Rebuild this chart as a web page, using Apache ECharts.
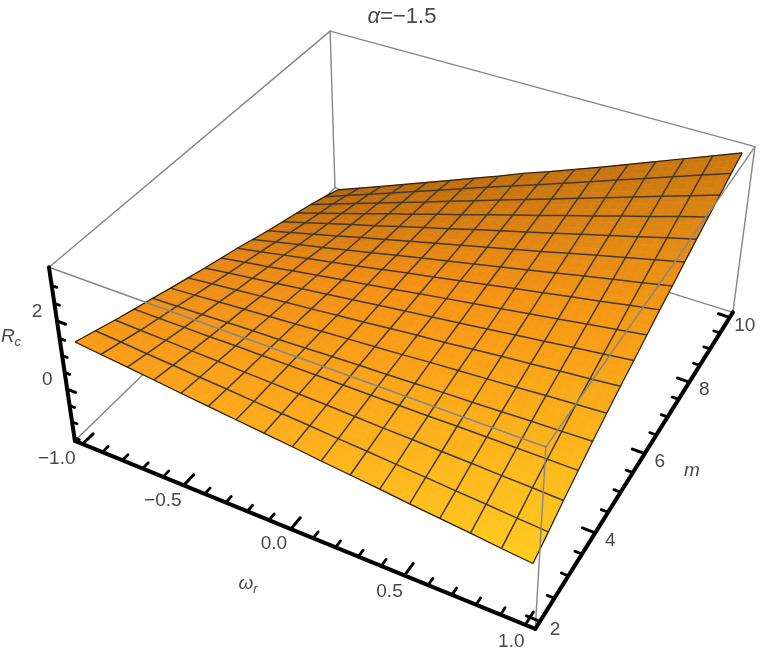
<!DOCTYPE html>
<html><head><meta charset="utf-8">
<style>html,body{margin:0;padding:0;background:#fff}#c{width:763px;height:654px}</style>
<script src="https://cdn.jsdelivr.net/npm/echarts@6/dist/echarts.min.js"></script>
</head><body><div id="c"></div>
<script>
// ---- data ----
const wValues = [-1,-0.875,-0.75,-0.625,-0.5,-0.375,-0.25,-0.125,0,0.125,0.25,0.375,0.5,0.625,0.75,0.875,1];
const mValues = [2,2.5,3,3.5,4,4.5,5,5.5,6,6.5,7,7.5,8,8.5,9,9.5,10];
// Rc: one row per m value, one column per omega_r value
const rcRows = [
[1.32,1.24,1.16,1.08,0.99,0.91,0.83,0.75,0.67,0.58,0.50,0.42,0.33,0.25,0.17,0.08,0.00],
[1.13,1.08,1.02,0.97,0.91,0.86,0.80,0.75,0.70,0.64,0.59,0.53,0.48,0.42,0.37,0.31,0.26],
[0.94,0.91,0.89,0.86,0.84,0.81,0.79,0.76,0.74,0.71,0.68,0.66,0.63,0.61,0.58,0.56,0.53],
[0.76,0.76,0.76,0.76,0.77,0.77,0.77,0.77,0.77,0.77,0.77,0.77,0.78,0.78,0.78,0.78,0.78],
[0.59,0.62,0.64,0.67,0.70,0.72,0.75,0.78,0.81,0.83,0.86,0.89,0.91,0.94,0.97,0.99,1.02],
[0.41,0.46,0.52,0.57,0.62,0.67,0.73,0.78,0.83,0.88,0.94,0.99,1.04,1.09,1.15,1.20,1.25],
[0.24,0.32,0.39,0.47,0.55,0.62,0.70,0.77,0.85,0.93,1.00,1.08,1.16,1.23,1.31,1.38,1.46],
[0.07,0.17,0.27,0.37,0.47,0.57,0.67,0.77,0.87,0.96,1.06,1.16,1.26,1.36,1.46,1.56,1.66],
[-0.09,0.03,0.15,0.28,0.40,0.52,0.64,0.76,0.89,1.01,1.13,1.25,1.37,1.49,1.62,1.74,1.86],
[-0.25,-0.11,0.04,0.19,0.33,0.47,0.62,0.77,0.91,1.06,1.20,1.35,1.49,1.64,1.78,1.93,2.07],
[-0.43,-0.26,-0.09,0.07,0.24,0.41,0.58,0.75,0.92,1.08,1.25,1.42,1.59,1.76,1.93,2.09,2.26],
[-0.60,-0.41,-0.22,-0.03,0.17,0.36,0.55,0.74,0.93,1.12,1.31,1.50,1.70,1.89,2.08,2.27,2.46],
[-0.76,-0.55,-0.33,-0.12,0.09,0.31,0.52,0.73,0.95,1.16,1.37,1.58,1.80,2.01,2.22,2.44,2.65],
[-0.92,-0.69,-0.45,-0.22,0.02,0.25,0.49,0.72,0.96,1.19,1.42,1.66,1.89,2.13,2.36,2.60,2.83],
[-1.08,-0.82,-0.57,-0.31,-0.06,0.20,0.46,0.71,0.97,1.23,1.48,1.74,1.99,2.25,2.51,2.76,3.02],
[-1.26,-0.98,-0.70,-0.42,-0.14,0.14,0.42,0.70,0.98,1.25,1.53,1.81,2.09,2.37,2.65,2.93,3.21],
[-1.46,-1.16,-0.87,-0.57,-0.27,0.03,0.33,0.63,0.95,1.23,1.53,1.83,2.14,2.45,2.76,3.07,3.38]
];
const wTicksMajor = [-1,-0.5,0,0.5,1];
const mTicksMajor = [2,4,6,8,10];
const zTicksMajor = [0,2];
const wTickLabels = ['\u22121.0','\u22120.5','0.0','0.5','1.0'];
const mTickLabels = ['2','4','6','8','10'];
const zTickLabels = ['0','2'];
const wMinor = [-0.9,-0.8,-0.7,-0.6,-0.4,-0.3,-0.2,-0.1,0.1,0.2,0.3,0.4,0.6,0.7,0.8,0.9];
const mMinor = [2.5,3,3.5,4.5,5,5.5,6.5,7,7.5,8.5,9,9.5];
const zMinor = [-1.5,-1,-0.5,0.5,1,1.5,2.5,3];

// ---- view: the plot box and the screen place of its corners ----
const W0=-1.04,W1=1.04,M0=1.84,M1=10.16,Z0=-1.6,Z1=3.5;
const anchors = [
 [W0,M0,Z0,75,441],[W1,M0,Z0,535,629],[W1,M1,Z0,733,312],[W0,M1,Z0,335,188],
 [W0,M0,Z1,49,267],[W1,M0,Z1,546,447],[W1,M1,Z1,755,147],[W0,M1,Z1,330,31]];
function solveCamera(){
  const A=[],b=[];
  anchors.forEach(([x,y,z,u,v])=>{
    A.push([x,y,z,1,0,0,0,0,-u*x,-u*y,-u*z]);b.push(u);
    A.push([0,0,0,0,x,y,z,1,-v*x,-v*y,-v*z]);b.push(v);
  });
  const n=11,N=[],r=[];
  for(let i=0;i<n;i++){N.push(new Array(n).fill(0));r.push(0);
    for(let k=0;k<A.length;k++){r[i]+=A[k][i]*b[k];for(let j=0;j<n;j++)N[i][j]+=A[k][i]*A[k][j];}}
  for(let i=0;i<n;i++){let p=i;for(let k=i+1;k<n;k++)if(Math.abs(N[k][i])>Math.abs(N[p][i]))p=k;
    [N[i],N[p]]=[N[p],N[i]];[r[i],r[p]]=[r[p],r[i]];
    for(let k=i+1;k<n;k++){const f=N[k][i]/N[i][i];for(let j=i;j<n;j++)N[k][j]-=f*N[i][j];r[k]-=f*r[i];}}
  const s=new Array(n).fill(0);
  for(let i=n-1;i>=0;i--){let t=r[i];for(let j=i+1;j<n;j++)t-=N[i][j]*s[j];s[i]=t/N[i][i];}
  return s;
}
const P=solveCamera();
function project(x,y,z){const d=P[8]*x+P[9]*y+P[10]*z+1;
  return [(P[0]*x+P[1]*y+P[2]*z+P[3])/d,(P[4]*x+P[5]*y+P[6]*z+P[7])/d];}

// ---- shading over the surface ----
const shade=[
 [[0xF9,0x9A,0x18],[0xFF,0xB0,0x1C],[0xFF,0xCC,0x20]],
 [[0xE6,0x86,0x14],[0xF8,0x92,0x14],[0xF8,0x9C,0x14]],
 [[0xB5,0x65,0x0A],[0xC0,0x70,0x0E],[0xCC,0x78,0x10]]];
function colorAt(u,v){
  const i=Math.min(1,Math.floor(v*2)),j=Math.min(1,Math.floor(u*2)),a=v*2-i,b=u*2-j,c=[0,0,0];
  for(let k=0;k<3;k++)c[k]=Math.round((1-a)*((1-b)*shade[i][j][k]+b*shade[i][j+1][k])+a*((1-b)*shade[i+1][j][k]+b*shade[i+1][j+1][k]));
  return 'rgb('+c.join(',')+')';
}
const GRAY='#868686',TXT='#484848',FONT='"Liberation Sans",Arial,sans-serif';
const xy=(api,x,y,z)=>api.coord(project(x,y,z));
function edge(a,b,api,w,col){const p=xy(api,...a),q=xy(api,...b);return {type:'line',shape:{x1:p[0],y1:p[1],x2:q[0],y2:q[1]},style:{stroke:col,lineWidth:w,lineCap:'round'},silent:true};}

const backEdges=[[[W0,M0,Z0],[W0,M1,Z0]],[[W0,M1,Z0],[W1,M1,Z0]],[[W0,M1,Z0],[W0,M1,Z1]],[[W0,M0,Z1],[W0,M1,Z1]],[[W0,M1,Z1],[W1,M1,Z1]],[[W1,M1,Z0],[W1,M1,Z1]]];
const frontEdges=[[[W0,M0,Z1],[W1,M0,Z1]],[[W1,M0,Z1],[W1,M1,Z1]],[[W1,M0,Z0],[W1,M0,Z1]]];

const cells=[];
for(let i=0;i<mValues.length-1;i++)for(let j=0;j<wValues.length-1;j++)cells.push([j,i]);
const SUB=3;
function renderCell(params,api){
  const j=api.value(0),i=api.value(1),kids=[];
  const w0=wValues[j],w1=wValues[j+1],m0=mValues[i],m1=mValues[i+1];
  const a=rcRows[i][j],b=rcRows[i][j+1],c=rcRows[i+1][j],d=rcRows[i+1][j+1];
  const pt=(s,t)=>xy(api,w0+(w1-w0)*s,m0+(m1-m0)*t,(1-s)*(1-t)*a+s*(1-t)*b+(1-s)*t*c+s*t*d);
  for(let p=0;p<SUB;p++)for(let q=0;q<SUB;q++){
    const s0=q/SUB,s1=(q+1)/SUB,t0=p/SUB,t1=(p+1)/SUB;
    const col=colorAt((j+(s0+s1)/2)/16,(i+(t0+t1)/2)/16);
    kids.push({type:'polygon',shape:{points:[pt(s0,t0),pt(s1,t0),pt(s1,t1),pt(s0,t1)]},style:{fill:col,stroke:col,lineWidth:0.6},silent:true});
  }
  return {type:'group',children:kids};
}
function renderMesh(params,api){
  const kids=[],mk=(pts,last)=>({type:'polyline',shape:{points:pts},style:{fill:null,stroke:last?'#2a1c08':'#423a2e',lineWidth:last?1.2:1.5,lineJoin:'round'},silent:true});
  for(let i=0;i<mValues.length;i++){const pts=wValues.map((w,j)=>xy(api,w,mValues[i],rcRows[i][j]));kids.push(mk(pts,i===0||i===16));}
  for(let j=0;j<wValues.length;j++){const pts=mValues.map((m,i)=>xy(api,wValues[j],m,rcRows[i][j]));kids.push(mk(pts,j===0||j===16));}
  return {type:'group',children:kids};
}
function renderEdges(list){return (params,api)=>({type:'group',children:list.map(e=>edge(e[0],e[1],api,1.4,GRAY))});}
function renderAxes(params,api){
  const kids=[],B='#000',L=4;
  kids.push(edge([W0,M0,Z0],[W1,M0,Z0],api,L,B),edge([W1,M0,Z0],[W1,M1,Z0],api,L,B),edge([W0,M0,Z0],[W0,M0,Z1],api,L,B));
  const dm=M1-M0,dw=W1-W0;
  wMinor.forEach(w=>kids.push(edge([w,M0,Z0],[w,M0+dm*0.018,Z0],api,2.8,B)));
  wTicksMajor.forEach(w=>kids.push(edge([w,M0,Z0],[w,M0+dm*0.033,Z0],api,3,B)));
  mMinor.forEach(m=>kids.push(edge([W1,m,Z0],[W1-dw*0.014,m,Z0],api,2.8,B)));
  mTicksMajor.forEach(m=>kids.push(edge([W1,m,Z0],[W1-dw*0.026,m,Z0],api,3,B)));
  zMinor.forEach(z=>kids.push(edge([W0,M0,z],[W0+dw*0.012,M0,z],api,2.8,B)));
  zTicksMajor.forEach(z=>kids.push(edge([W0,M0,z],[W0+dw*0.02,M0,z],api,3,B)));
  return {type:'group',children:kids};
}
function label(api,p,dx,dy,text,extra){const c=api.coord(p);
  return {type:'text',x:c[0]+dx,y:c[1]+dy,style:Object.assign({text,fill:TXT,font:'19px '+FONT,align:'center',verticalAlign:'middle'},extra||{}),silent:true};}
const wLabelDx=[-26,-21,-17,-15,-14], wLabelDy=[15,15,15,16,17];
function renderLabels(params,api){
  const kids=[],F='"Liberation Sans"';
  wTicksMajor.forEach((w,i)=>kids.push(label(api,project(w,M0,Z0),wLabelDx[i],wLabelDy[i],wTickLabels[i])));
  mTicksMajor.forEach((m,i)=>kids.push(label(api,project(W1,m,Z0),15,8,mTickLabels[i])));
  zTicksMajor.forEach((z,i)=>kids.push(label(api,project(W0,M0,z),-20,-9,zTickLabels[i])));
  const it={i:{fontStyle:'italic',fontSize:19,fontFamily:F,fill:TXT},s:{fontStyle:'italic',fontSize:13,fontFamily:F,fill:TXT,padding:[11,0,0,0]}};
  kids.push(label(api,[11,337],0,0,'{i|R}{s|c}',{rich:it}));
  kids.push(label(api,[248,584],0,0,'{i|\u03C9}{s|r}',{rich:it}));
  kids.push(label(api,[692,471],0,0,'{i|m}',{rich:it}));
  kids.push(label(api,[402,17],0,0,'{i|\u03B1}{n|=\u22121.5}',{rich:{i:{fontStyle:'italic',fontSize:22,fontFamily:F,fill:TXT},n:{fontSize:22,fontFamily:F,fill:TXT}}}));
  return {type:'group',children:kids};
}
const custom=(name,renderItem,data,z)=>({type:'custom',name,coordinateSystem:'cartesian2d',renderItem,data,z,silent:true,clip:false,encode:{x:0,y:1},animation:false});
const chart=echarts.init(document.getElementById('c'),null,{renderer:'canvas'});
chart.setOption({
  animation:false,
  backgroundColor:'#fff',
  grid:{left:0,right:0,top:0,bottom:0},
  xAxis:{type:'value',min:0,max:763,show:false},
  yAxis:{type:'value',min:0,max:654,inverse:true,show:false},
  series:[
    custom('box back',renderEdges(backEdges),[[0,0]],1),
    custom('surface',renderCell,cells,2),
    custom('mesh',renderMesh,[[0,0]],3),
    custom('box front',renderEdges(frontEdges),[[0,0]],4),
    custom('axes',renderAxes,[[0,0]],5),
    custom('labels',renderLabels,[[0,0]],6)
  ]
});
</script></body></html>
